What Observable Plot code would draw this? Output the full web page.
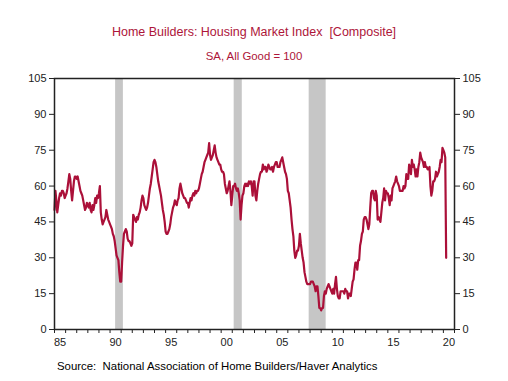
<!DOCTYPE html>
<html><head><meta charset="utf-8">
<script src="https://cdn.jsdelivr.net/npm/d3@7"></script>
<script src="https://cdn.jsdelivr.net/npm/@observablehq/plot@0.6"></script>
<style>
body{margin:0;background:#fff;font-family:"Liberation Sans",Arial,sans-serif;}
#wrap{width:508px;height:381px;position:relative;overflow:hidden;background:#fff}
#head{height:64px;position:relative}
.title{position:absolute;left:0;width:508px;text-align:center;color:#ad1539;white-space:pre}
#t1{top:26px;font-size:12.5px;line-height:12px}
#t2{top:51px;font-size:11.4px;line-height:11px}
#foot{position:absolute;left:57px;top:361px;font-size:11.4px;line-height:11px;color:#000;white-space:pre}
svg{display:block}
</style></head>
<body>
<div id="wrap">
  <div id="head">
    <div class="title" id="t1">Home Builders: Housing Market Index  [Composite]</div>
    <div class="title" id="t2">SA, All Good = 100</div>
  </div>
  <div id="chart"></div>
  <div id="foot">Source:  National Association of Home Builders/Haver Analytics</div>
</div>
<script>
// Monthly NAHB Housing Market Index, starting January 1985
const startYear = 1985;
const hmi = [
  50, 58, 54, 49, 52, 55, 57, 56, 58, 58, 57, 55, // 1985
  56, 57, 59, 62, 65, 63, 58, 54, 58, 62, 64, 64, // 1986
  63, 64, 62, 60, 58, 57, 56, 54, 52, 50, 51, 53, // 1987
  52, 51, 53, 50, 49, 52, 50, 52, 55, 53, 56, 55, // 1988
  57, 60, 49, 46, 44, 45, 46, 47, 50, 48, 46, 45, // 1989
  44, 43, 42, 40, 39, 37, 34, 31, 30, 29, 24, 20, // 1990
  20, 28, 35, 40, 41, 42, 41, 38, 37, 37, 36, 35, // 1991
  36, 48, 47, 46, 45, 47, 46, 48, 49, 51, 54, 56, // 1992
  55, 52, 51, 50, 51, 53, 56, 59, 61, 64, 67, 70, // 1993
  71, 70, 68, 65, 62, 60, 58, 56, 53, 50, 48, 45, // 1994
  41, 40, 40, 41, 42, 44, 47, 49, 51, 52, 54, 53, // 1995
  52, 54, 55, 59, 61, 59, 57, 56, 55, 55, 54, 53, // 1996
  53, 51, 53, 55, 54, 56, 57, 56, 58, 57, 58, 58, // 1997
  59, 61, 63, 65, 66, 68, 70, 71, 72, 73, 74, 78, // 1998
  73, 71, 72, 73, 75, 77, 74, 72, 71, 70, 69, 69, // 1999
  67, 66, 66, 65, 61, 59, 57, 58, 60, 62, 58, 52, // 2000
  56, 60, 60, 61, 59, 58, 59, 57, 54, 46, 52, 56, // 2001
  57, 60, 61, 60, 61, 60, 62, 61, 62, 60, 56, 62, // 2002
  62, 56, 54, 58, 61, 63, 65, 66, 66, 69, 67, 68, // 2003
  68, 66, 67, 69, 68, 67, 67, 68, 66, 68, 69, 70, // 2004
  70, 68, 68, 68, 70, 71, 72, 70, 68, 66, 65, 63, // 2005
  58, 57, 54, 51, 46, 42, 39, 33, 30, 31, 33, 33, // 2006
  35, 40, 36, 33, 30, 28, 24, 22, 20, 19, 19, 19, // 2007
  19, 20, 20, 20, 19, 18, 16, 18, 18, 14,  9,  9, // 2008
   8,  9,  9, 14, 16, 15, 17, 18, 19, 18, 17, 16, // 2009
  15, 17, 15, 19, 22, 17, 14, 13, 13, 16, 16, 16, // 2010
  16, 15, 17, 16, 16, 13, 15, 15, 14, 17, 20, 21, // 2011
  25, 28, 28, 25, 29, 29, 35, 37, 40, 41, 46, 47, // 2012
  47, 46, 44, 42, 44, 51, 57, 58, 58, 55, 54, 58, // 2013
  56, 46, 47, 46, 45, 49, 53, 55, 59, 54, 58, 57, // 2014
  57, 55, 52, 56, 54, 59, 60, 61, 62, 64, 62, 61, // 2015
  60, 58, 58, 58, 58, 60, 59, 60, 65, 63, 63, 69, // 2016
  67, 65, 71, 68, 69, 67, 64, 67, 64, 68, 70, 74, // 2017
  72, 71, 70, 68, 70, 68, 68, 67, 67, 68, 60, 56, // 2018
  58, 62, 62, 63, 66, 64, 65, 66, 68, 71, 70, 76, // 2019
  75, 74, 72, 30                                  // 2020
];

// Recession periods (decimal years)
const recStart = [1990.5, 2001.17, 2007.92];
const recEnd   = [1991.2, 2001.9, 2009.45];

// Axis ticks and labels
const yTicks = [0, 15, 30, 45, 60, 75, 90, 105];
const labelYears = [1985, 1990, 1995, 2000, 2005, 2010, 2015, 2020];
const xLabels = ["85", "90", "95", "00", "05", "10", "15", "20"];
const yearTicks = d3.range(1985, 2022);

const series = hmi.map((v, i) => ({t: startYear + i / 12, v}));
const recessions = recStart.map((s, i) => ({start: s, end: recEnd[i]}));

const chart = Plot.plot({
  width: 508, height: 288,
  marginTop: 14, marginBottom: 23, marginLeft: 54, marginRight: 54,
  style: {fontFamily: '"Liberation Sans", Arial, sans-serif', fontSize: "11px", color: "#222", background: "transparent", overflow: "visible"},
  x: {domain: [1985, 2021]},
  y: {domain: [0, 105]},
  marks: [
    Plot.rect(recessions, {x1: "start", x2: "end", y1: 0, y2: 105, fill: "#c6c6c6"}),
    Plot.line(series, {x: "t", y: "v", stroke: "#ab1039", strokeWidth: 2.2}),
    Plot.frame({stroke: "#222", strokeWidth: 1.5}),
    Plot.axisY({anchor: "left", ticks: yTicks, tickSize: 5, tickPadding: 3, label: null}),
    Plot.axisY({anchor: "right", ticks: yTicks, tickSize: 5, tickPadding: 3, label: null}),
    Plot.axisX({ticks: yearTicks, tickSize: 4, tickFormat: () => "", label: null}),
    Plot.axisX({ticks: labelYears.map(y => y + 0.5), tickSize: 0, tickPadding: 9,
      tickFormat: d => xLabels[labelYears.indexOf(Math.floor(d))], label: null})
  ]
});
document.getElementById("chart").appendChild(chart);
</script>
</body></html>
